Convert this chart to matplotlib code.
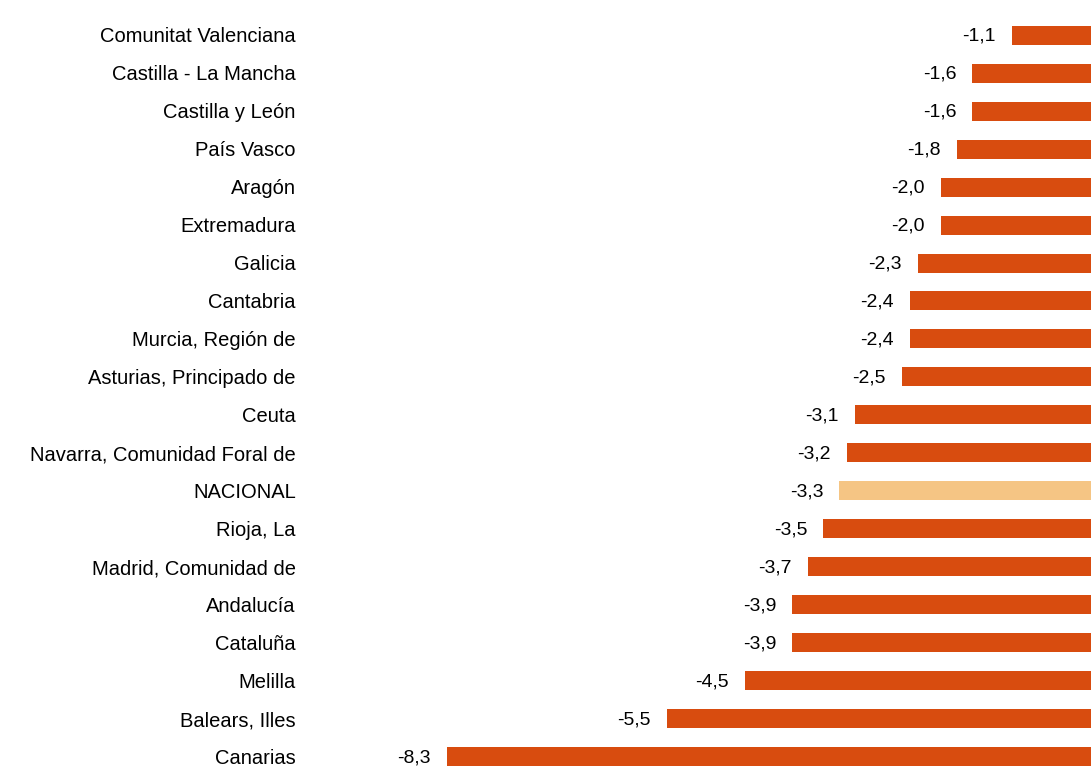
import matplotlib.pyplot as plt

regions = ['Comunitat Valenciana', 'Castilla - La Mancha', 'Castilla y León', 'País Vasco',
           'Aragón', 'Extremadura', 'Galicia', 'Cantabria', 'Murcia, Región de',
           'Asturias, Principado de', 'Ceuta', 'Navarra, Comunidad Foral de', 'NACIONAL',
           'Rioja, La', 'Madrid, Comunidad de', 'Andalucía', 'Cataluña', 'Melilla',
           'Balears, Illes', 'Canarias']
values = [-1.1, -1.6, -1.6, -1.8, -2.0, -2.0, -2.3, -2.4, -2.4, -2.5,
          -3.1, -3.2, -3.3, -3.5, -3.7, -3.9, -3.9, -4.5, -5.5, -8.3]

plt.rcParams['font.family'] = ['Liberation Sans', 'DejaVu Sans']

W, H = 1091, 767
fig = plt.figure(figsize=(W / 100, H / 100), dpi=100)
# axes from x=300px to x=1098px (zero line just past the right edge)
left, right = 300, 1098
top, bottom = 16, 776
ax = fig.add_axes([left / W, 1 - bottom / H, (right - left) / W, (bottom - top) / H])

n = len(regions)
ypos = list(range(n))
colors = ['#F5C584' if r == 'NACIONAL' else '#D84C0F' for r in regions]
ax.barh(ypos, values, height=0.5, color=colors)
ax.set_ylim(n - 0.5, -0.5)
ax.set_xlim(-8.3 - (447 - left) / 78.5, 0)

ax.set_yticks(ypos)
ax.set_yticklabels(regions, fontsize=14.5)
ax.tick_params(axis='y', length=0, pad=3)
ax.set_xticks([])
for s in ax.spines.values():
    s.set_visible(False)

for y, v in zip(ypos, values):
    ax.annotate(f'{v:.1f}'.replace('.', ','), (v, y + 0.03), xytext=(-16, 0),
                textcoords='offset pixels', ha='right', va='center', fontsize=14)

fig.savefig('out.png', dpi=100)
